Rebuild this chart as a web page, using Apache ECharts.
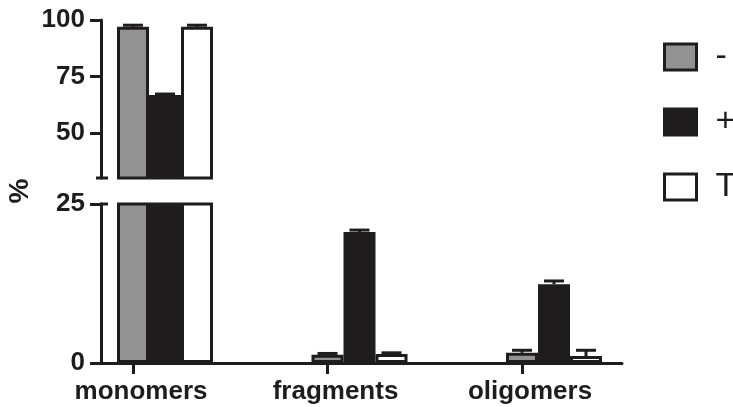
<!DOCTYPE html>
<html>
<head>
<meta charset="utf-8">
<script src="https://cdn.jsdelivr.net/npm/echarts@6/dist/echarts.min.js"></script>
<style>
  html, body { margin: 0; padding: 0; background: #ffffff; }
  #chart { width: 733px; height: 407px; }
</style>
</head>
<body>
<div id="chart"></div>
<script>
// Species distribution (%) per treatment group
const categories = ['monomers', 'fragments', 'oligomers'];
const seriesNames = ['-', '+', 'T'];
const minusValues = [97.0, 1.3, 1.6];
const minusErrors = [0.7, 0.2, 0.4];
const plusValues = [66.8, 20.6, 12.4];
const plusErrors = [0.4, 0.3, 0.5];
const tValues = [97.0, 1.4, 1.1];
const tErrors = [0.7, 0.2, 0.9];
const upperTicks = [50, 75, 100];
const lowerTicks = [0, 25];

const INK = '#1e1c1c';
const FONT = "'Liberation Sans', Arial, sans-serif";
const BAR_W = 32;          // px per bar, bars touch within a group
const UNIT_PX = 194.5;     // px per category step on the x axis
const X_MIN = -64 / UNIT_PX;
const X_MAX = 457 / UNIT_PX;
const TICK_SHIFT = -BAR_W / UNIT_PX;   // category tick sits under the first bar

const groups = [
  { name: seriesNames[0], values: minusValues, errors: minusErrors, color: '#929292', offset: -BAR_W },
  { name: seriesNames[1], values: plusValues, errors: plusErrors, color: '#1e1c1c', offset: 0 },
  { name: seriesNames[2], values: tValues, errors: tErrors, color: '#ffffff', offset: BAR_W }
];

const tickPositions = categories.map((c, i) => i + TICK_SHIFT);

function errorRenderer(offset) {
  return function (params, api) {
    const x = api.value(0), v = api.value(1), e = api.value(2);
    const base = api.coord([x, v]);
    const top = api.coord([x, v + e]);
    const cx = base[0] + offset;
    const style = { stroke: INK, lineWidth: 3 };
    return {
      type: 'group',
      children: [
        { type: 'line', shape: { x1: cx, y1: base[1], x2: cx, y2: top[1] }, style },
        { type: 'line', shape: { x1: cx - 10, y1: top[1], x2: cx + 10, y2: top[1] }, style }
      ]
    };
  };
}

const series = [];
[0, 1].forEach(function (panel) {
  groups.forEach(function (g) {
    series.push({
      type: 'bar',
      name: g.name,
      xAxisIndex: panel,
      yAxisIndex: panel,
      barWidth: BAR_W,
      barGap: '0%',
      clip: true,
      itemStyle: { color: g.color, borderColor: INK, borderWidth: 3 },
      emphasis: { disabled: true },
      data: g.values.map((v, i) => [i, v])
    });
  });
  groups.forEach(function (g) {
    series.push({
      type: 'custom',
      xAxisIndex: panel,
      yAxisIndex: panel,
      clip: true,
      z: 3,
      renderItem: errorRenderer(g.offset),
      data: g.values.map((v, i) => [i, v, g.errors[i]])
    });
  });
});

const axisLine = { show: true, onZero: false, lineStyle: { color: INK, width: 3 } };
const yLabel = { color: INK, fontFamily: FONT, fontWeight: 'bold', fontSize: 26, margin: 16 };

const option = {
  animation: false,
  backgroundColor: '#ffffff',
  grid: [
    { left: 101, top: 20, width: 521, height: 158 },
    { left: 101, top: 204, width: 521, height: 159 }
  ],
  xAxis: [
    { gridIndex: 0, type: 'value', min: X_MIN, max: X_MAX, show: false },
    {
      gridIndex: 1, type: 'value', min: X_MIN, max: X_MAX,
      axisLine: axisLine,
      splitLine: { show: false },
      axisTick: { show: true, customValues: tickPositions, length: 11, lineStyle: { color: INK, width: 3 } },
      axisLabel: {
        customValues: tickPositions,
        formatter: v => categories[Math.round(v - TICK_SHIFT)],
        color: INK, fontFamily: FONT, fontWeight: 'bold', fontSize: 26,
        margin: 16, padding: [0, 0, 0, 16]
      }
    }
  ],
  yAxis: [
    {
      gridIndex: 0, type: 'value', min: 30, max: 100,
      axisLine: axisLine,
      splitLine: { show: false },
      axisTick: { show: true, customValues: upperTicks, length: 11, lineStyle: { color: INK, width: 3 } },
      axisLabel: Object.assign({ customValues: upperTicks }, yLabel)
    },
    {
      gridIndex: 1, type: 'value', min: 0, max: 25, interval: 25,
      axisLine: axisLine,
      splitLine: { show: false },
      axisTick: { show: true, customValues: lowerTicks, length: 11, lineStyle: { color: INK, width: 3 } },
      axisLabel: Object.assign({ customValues: lowerTicks }, yLabel)
    }
  ],
  legend: {
    data: seriesNames,
    orient: 'vertical',
    left: 658,
    top: 35,
    icon: 'rect',
    itemWidth: 32,
    itemHeight: 26,
    itemGap: 31,
    selectedMode: false,
    itemStyle: { borderColor: INK, borderWidth: 3 },
    textStyle: { color: INK, fontFamily: FONT, fontSize: 34, lineHeight: 26, padding: [0, 0, 0, 14] }
  },
  graphic: [
    // break marks where the axis is split
    { type: 'line', shape: { x1: 96, y1: 178, x2: 108, y2: 178 }, style: { stroke: INK, lineWidth: 3 } },
    { type: 'line', shape: { x1: 100, y1: 204, x2: 108, y2: 204 }, style: { stroke: INK, lineWidth: 3 } },
    {
      type: 'text', x: 20, y: 191, rotation: Math.PI / 2,
      style: { text: '%', fill: INK, font: "bold 28px 'Liberation Sans', Arial, sans-serif", align: 'center', verticalAlign: 'middle' }
    }
  ],
  series: series
};

const chart = echarts.init(document.getElementById('chart'), null, { renderer: 'canvas' });
chart.setOption(option);
</script>
</body>
</html>
